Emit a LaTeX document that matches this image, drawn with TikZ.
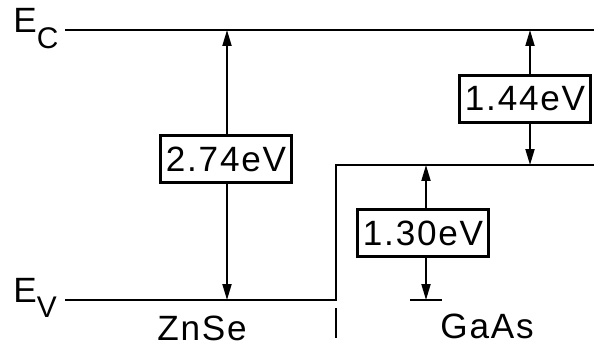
\documentclass[tikz,border=0pt]{standalone}
\usepackage{fontspec}
\setmainfont{Liberation Sans}[LetterSpace=5]
\usetikzlibrary{arrows.meta,positioning}

\begin{document}
\begin{tikzpicture}[x=0.02cm, y=-0.02cm, >={Triangle[length=3.2mm,width=1.8mm]},
    band/.style={line width=1.1pt},
    gapbox/.style={draw, line width=1.5pt, fill=white, inner xsep=3pt, inner ysep=2pt,
      minimum height=0.95cm, font=\fontsize{20}{22}\selectfont},
    levellabel/.style={anchor=base west, inner sep=0pt, font=\fontsize{20}{22}\selectfont},
    sidelabel/.style={inner sep=0pt, font=\fontsize{20}{22}\selectfont}]
    \useasboundingbox (0,0) rectangle (594,347);

    % band edges
    \coordinate (ec-l) at (65,30);
    \coordinate (ec-r) at (594,30);
    \coordinate (ev-l) at (65,300);
    \coordinate (step-b) at (336,300);
    \coordinate (step-t) at (336,165);
    \coordinate (gaas-r) at (594,165);
    \draw[band] (ec-l) -- (ec-r);
    \draw[band] (ev-l) -- (step-b) -- (step-t) -- (gaas-r);

    \node[levellabel] (ec) at (13,33) {E\raisebox{-0.45em}{\fontsize{17}{17}\selectfont C}};
    \node[levellabel] (ev) at (13,302) {E\raisebox{-0.45em}{\fontsize{17}{17}\selectfont V}};

    % ZnSe gap
    \coordinate (zn-t) at (227,30);
    \coordinate (zn-b) at (227,300);
    \node[gapbox] (gap-zn) at (226,159) {2.74eV};
    \draw[->, band] (gap-zn.north -| zn-t) -- (zn-t);
    \draw[->, band] (gap-zn.south -| zn-b) -- (zn-b);

    % GaAs conduction band offset
    \coordinate (off-t) at (530,30);
    \coordinate (off-b) at (530,165);
    \node[gapbox] (gap-off) at (525,99) {1.44eV};
    \draw[->, band] (gap-off.north -| off-t) -- (off-t);
    \draw[->, band] (gap-off.south -| off-b) -- (off-b);

    % GaAs gap
    \coordinate (ga-t) at (426,165);
    \coordinate (ga-b) at (426,300);
    \coordinate (bar-l) at (410,300);
    \coordinate (bar-r) at (442,300);
    \node[gapbox] (gap-ga) at (423,233) {1.30eV};
    \draw[->, band] (gap-ga.north -| ga-t) -- (ga-t);
    \draw[->, band] (gap-ga.south -| ga-b) -- (ga-b);
    \draw[band] (bar-l) -- (bar-r);

    % interface and materials
    \coordinate (tick-t) at (336,308);
    \coordinate (tick-b) at (336,338);
    \draw[band] (tick-t) -- (tick-b);
    \node[sidelabel] (znse) at (202,328) {ZnSe};
    \node[sidelabel] (gaas) at (487,326) {GaAs};
\end{tikzpicture}
\end{document}
